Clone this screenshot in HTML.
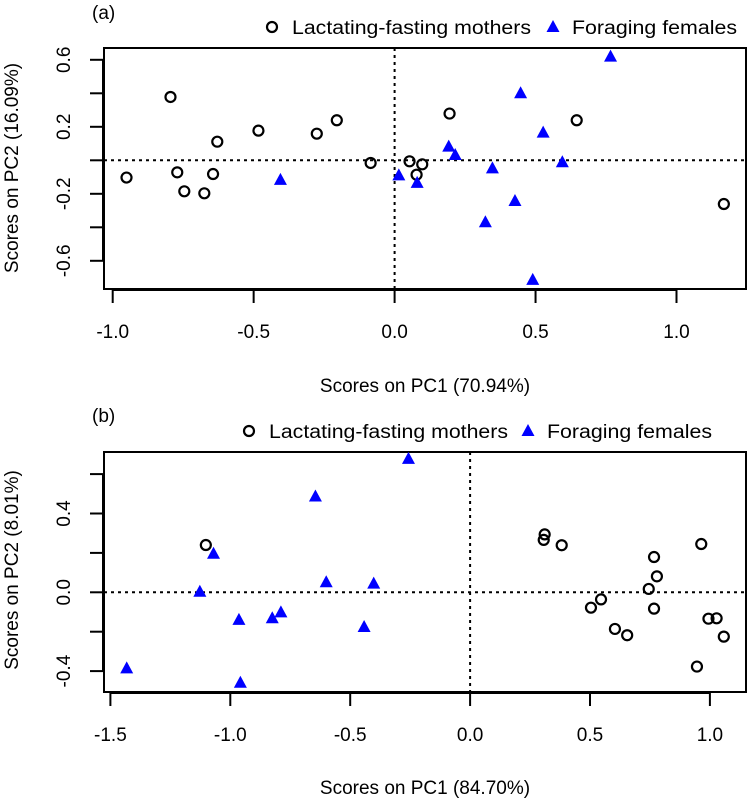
<!DOCTYPE html>
<html><head><meta charset="utf-8"><style>
body{margin:0;background:#fff}
svg{display:block;font-family:"Liberation Sans",Arial,sans-serif}
</style></head><body>
<svg id="c" width="749" height="800" viewBox="0 0 749 800" xmlns="http://www.w3.org/2000/svg"></svg>
<script>
// Panel (a) data
const aCircX=[-0.795,-0.951,-0.771,-0.746,-0.675,-0.644,-0.629,-0.483,-0.276,-0.205,-0.085,0.053,0.098,0.078,0.195,0.646,1.168];
const aCircY=[0.378,-0.103,-0.072,-0.185,-0.197,-0.082,0.111,0.177,0.159,0.239,-0.016,-0.006,-0.024,-0.086,0.279,0.239,-0.261];
const aTriX=[0.766,0.447,0.527,0.192,0.215,0.595,0.347,0.015,0.08,-0.405,0.427,0.322,0.49];
const aTriY=[0.619,0.4,0.165,0.082,0.032,-0.012,-0.048,-0.09,-0.135,-0.117,-0.243,-0.37,-0.714];
const aXTicks=[-1.0,-0.5,0.0,0.5,1.0];
const aXLabels=["-1.0","-0.5","0.0","0.5","1.0"];
const aYTicks=[-0.6,-0.4,-0.2,0.0,0.2,0.4,0.6];
const aYLabels=["-0.6","","-0.2","","0.2","","0.6"];
// Panel (b) data
const bCircX=[-1.102,0.311,0.307,0.382,0.964,0.767,0.779,0.745,0.767,0.546,0.504,0.604,0.655,0.994,1.028,1.058,0.946];
const bCircY=[0.240,0.294,0.266,0.239,0.245,0.179,0.081,0.017,-0.083,-0.036,-0.078,-0.186,-0.218,-0.134,-0.132,-0.225,-0.377];
const bTriX=[-0.257,-0.645,-1.07,-1.127,-0.6,-0.402,-0.964,-0.825,-0.789,-0.442,-1.432,-0.958];
const bTriY=[0.677,0.486,0.196,0.003,0.051,0.044,-0.14,-0.132,-0.102,-0.176,-0.386,-0.459];
const bXTicks=[-1.5,-1.0,-0.5,0.0,0.5,1.0];
const bXLabels=["-1.5","-1.0","-0.5","0.0","0.5","1.0"];
const bYTicks=[-0.4,-0.2,0.0,0.2,0.4,0.6];
const bYLabels=["-0.4","","0.0","","0.4",""];

const svg=document.getElementById('c');
const NS='http://www.w3.org/2000/svg';
function mk(tag,attrs,parent){const e=document.createElementNS(NS,tag);for(const k in attrs)e.setAttribute(k,attrs[k]);(parent||svg).appendChild(e);return e;}

function panel(o){
  const g=mk('g',{});
  
  
  const X=v=>o.x0+v*o.xu, Y=v=>o.y0-v*o.yu;
  const box=mk('rect',{x:o.L,y:o.T,width:o.R-o.L,height:o.B-o.T,fill:'none',stroke:'#000','stroke-width':2},g);
  
  
  const hz=mk('line',{x1:o.L,x2:o.R,y1:Y(0),y2:Y(0),stroke:'#000','stroke-width':2,'stroke-dasharray':'3,4'},g);
  
  
  const vz=mk('line',{x1:X(0),x2:X(0),y1:o.T,y2:o.B,stroke:'#000','stroke-width':2,'stroke-dasharray':'3,4'},g);
  
  
  const xa=mk('line',{x1:X(o.xt[0]),x2:X(o.xt[o.xt.length-1]),y1:o.B+1,y2:o.B+1,stroke:'#000','stroke-width':2},g);
  
  
  o.xt.forEach((v,i)=>{
    mk('line',{x1:X(v),x2:X(v),y1:o.B,y2:o.B+14,stroke:'#000','stroke-width':2},g);
    const t=mk('text',{x:X(v),y:o.B+49,'text-anchor':'middle','font-size':19},g);
    t.textContent=o.xl[i];
    
    
  });
  const ya=mk('line',{x1:o.L-1,x2:o.L-1,y1:Y(o.yt[0]),y2:Y(o.yt[o.yt.length-1]),stroke:'#000','stroke-width':2},g);
  
  
  o.yt.forEach((v,i)=>{
    mk('line',{x1:o.L,x2:o.L-14,y1:Y(v),y2:Y(v),stroke:'#000','stroke-width':2},g);
    if(o.yl[i]){
      const t=mk('text',{x:70,y:Y(v),'text-anchor':'middle','font-size':19,transform:'rotate(-90 70 '+Y(v)+')'},g);
      t.textContent=o.yl[i];
      
      
    }
  });
  const xt=mk('text',{x:425,y:o.xtitleY,'text-anchor':'middle','font-size':19},g);
  xt.textContent=o.xtitle;
  
  
  const yt=mk('text',{x:18,y:o.ytitleY,'text-anchor':'middle','font-size':19,transform:'rotate(-90 18 '+o.ytitleY+')'},g);
  yt.textContent=o.ytitle;
  
  
  const pl=mk('text',{x:92,y:o.labelY,'font-size':19},g);
  pl.textContent=o.label;
  
  
  const lc=mk('circle',{cx:o.legX1,cy:o.legY,r:5,fill:'none',stroke:'#000','stroke-width':2.2},g);
  
  
  const l1=mk('text',{x:o.legX1+20,y:o.legY+7,'font-size':19,textLength:239,lengthAdjust:'spacingAndGlyphs'},g);
  l1.textContent='Lactating-fasting mothers';
  
  
  const lt=mk('path',{d:tri(o.legX2,o.legY),fill:'#0000ff'},g);
  
  
  const l2=mk('text',{x:o.legX2+19,y:o.legY+7,'font-size':19,textLength:165,lengthAdjust:'spacingAndGlyphs'},g);
  l2.textContent='Foraging females';
  
  
  o.cx.forEach((v,i)=>{
    const c=mk('circle',{cx:X(v),cy:Y(o.cy[i]),r:5,fill:'none',stroke:'#000','stroke-width':2.2},g);
    
    
  });
  o.tx.forEach((v,i)=>{
    const p=mk('path',{d:tri(X(v),Y(o.ty[i])),fill:'#0000ff'},g);
    
    
  });
}
function tri(x,y){return 'M'+(x-6.5)+','+(y+5)+' L'+(x+6.5)+','+(y+5)+' L'+x+','+(y-7)+' Z';}

panel({name:'panel-a',L:104,R:746,T:48,B:289,x0:394.6,xu:281.9,y0:160.3,yu:167.5,
  xt:aXTicks,xl:aXLabels,yt:aYTicks,yl:aYLabels,xtitle:'Scores on PC1 (70.94%)',xtitleY:392,
  ytitle:'Scores on PC2 (16.09%)',ytitleY:168,label:'(a)',labelY:19,legX1:272,legX2:553,legY:27,
  cx:aCircX,cy:aCircY,tx:aTriX,ty:aTriY});
panel({name:'panel-b',L:104,R:746,T:452,B:692,x0:470.1,xu:239.8,y0:592.3,yu:197,
  xt:bXTicks,xl:bXLabels,yt:bYTicks,yl:bYLabels,xtitle:'Scores on PC1 (84.70%)',xtitleY:794,
  ytitle:'Scores on PC2 (8.01%)',ytitleY:570,label:'(b)',labelY:422,legX1:249,legX2:528,legY:431,
  cx:bCircX,cy:bCircY,tx:bTriX,ty:bTriY});
</script>
</body></html>
